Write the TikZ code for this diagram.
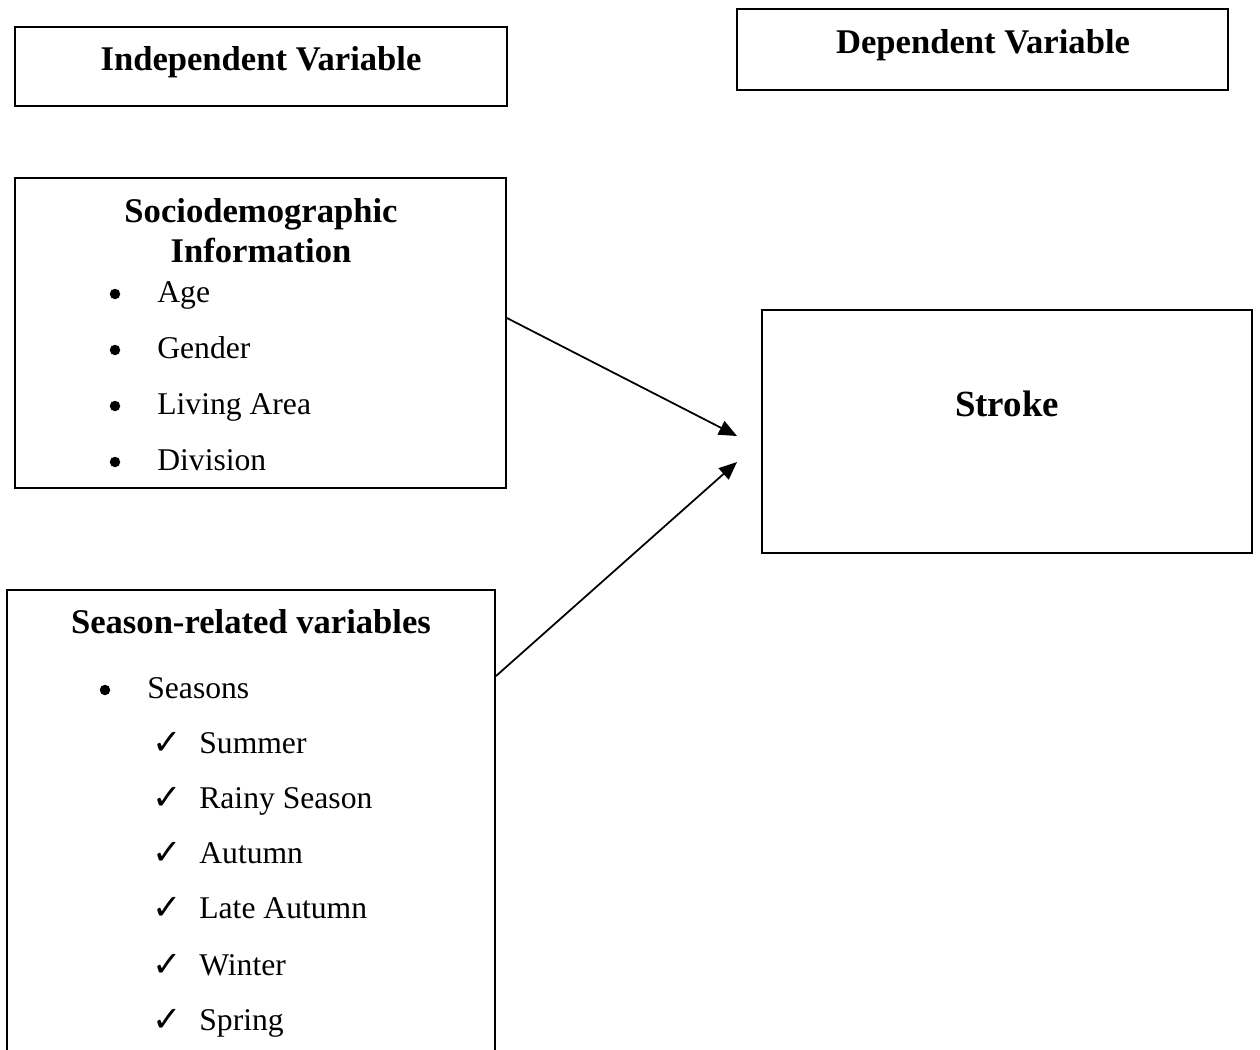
\documentclass[tikz,border=0pt]{standalone}
\usepackage{fontspec}
\setmainfont{Liberation Serif}
\newfontfamily\symfont{DejaVu Sans}
\usetikzlibrary{arrows.meta,positioning}

\begin{document}
\begin{tikzpicture}[x=0.02cm, y=-0.02cm,
    >={Triangle[length=0.36cm,width=0.3cm]},
    every node/.style={font=\fontsize{18}{22}\selectfont, inner sep=0pt},
    varbox/.style={draw, line width=1.1pt, minimum width=#1},
    title/.style={font=\fontsize{19.7}{24}\selectfont\bfseries, anchor=base},
    dot/.style={circle, fill, minimum size=0.21cm},
    tick/.style={font=\fontsize{20}{24}\symfont, anchor=base west},
    item/.style={anchor=base west}]
    \useasboundingbox (0,0) rectangle (1260,1049);
    \clip (0,0) rectangle (1260,1049);

    \node[varbox=9.84cm, minimum height=1.58cm] (indep) at (261,66.5) {};
    \node[title] (indeplbl) at (261,70) {Independent Variable};
    \node[varbox=9.82cm, minimum height=1.62cm] (dep) at (982.5,49.5) {};
    \node[title] (deplbl) at (983,53) {Dependent Variable};

    \node[varbox=9.82cm, minimum height=6.2cm] (soc) at (260.5,333) {};
    \node[title] (soctitle1) at (261,222) {Sociodemographic};
    \node[title] (soctitle2) at (261,262) {Information};
    \foreach \y/\what [count=\i] in {302/Age, 358/Gender, 414/Living Area, 470/Division} {
        \node[dot] (socdot\i) at (115,\y-8) {};
        \node[item] (socitem\i) at (157,\y) {\what};
    }

    \node[varbox=9.8cm, minimum height=4.86cm] (stroke) at (1007,431.5) {};
    \node[title, font=\fontsize{21}{24}\selectfont\bfseries] (strokelbl) at (1007,416) {Stroke};

    \node[varbox=9.76cm, minimum height=10.2cm] (season) at (251,845) {};
    \node[title] (seasontitle) at (251,633) {Season-related variables};
    \node[dot] (seasondot) at (105,690) {};
    \node[item] (seasonitem) at (147,698) {Seasons};
    \foreach \y/\what [count=\i] in {753/Summer, 808/Rainy Season, 863/Autumn,
        918/Late Autumn, 975/Winter, 1030/Spring} {
        \node[tick] (tick\i) at (152,\y+1) {✓};
        \node[item] (seasonsub\i) at (199,\y) {\what};
    }

    \coordinate (tipa) at (737,436);
    \coordinate (tipb) at (737,462);
    \draw[->, line width=1pt] ([yshift=0.3cm]soc.east) -- (tipa);
    \draw[->, line width=1pt] ([yshift=-1.74cm]season.north east) -- (tipb);
\end{tikzpicture}
\end{document}
